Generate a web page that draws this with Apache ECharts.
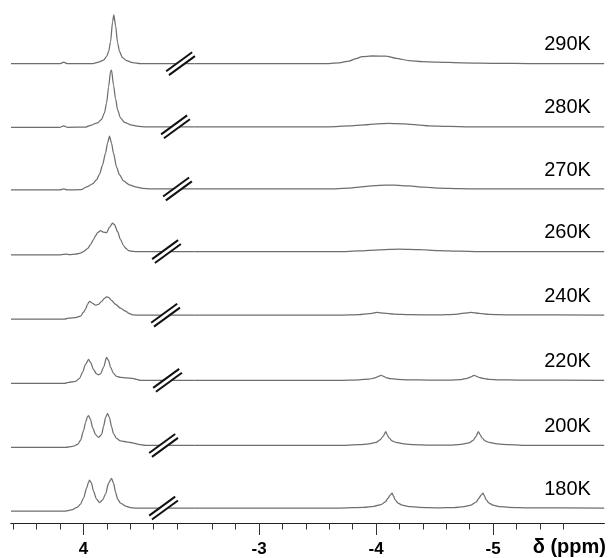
<!DOCTYPE html>
<html>
<head>
<meta charset="utf-8">
<script src="https://cdn.jsdelivr.net/npm/echarts@6/dist/echarts.min.js"></script>
<style>
html,body{margin:0;padding:0;background:#fff;}
#c{width:608px;height:558px;}
</style>
</head>
<body>
<div id="c"></div>
<script>
// ---- data (ppm, intensity relative to each spectrum's baseline) ----
const temps = ['290K','280K','270K','260K','240K','220K','200K','180K'];
const baselines = [462, 398.5, 336, 273, 209, 143.5, 78, 15];
const breakPpm = [3.171, 3.214, 3.197, 3.291, 3.299, 3.282, 3.316, 3.316];
const leftMinorTicks = [4.6, 4.4, 4.2, 3.8, 3.6, 3.4, 3.2];
const leftMajorTicks = [4];
const rightMinorTicks = [-2.6, -2.8, -3.2, -3.4, -3.6, -3.8, -4.2, -4.4, -4.6, -4.8, -5.2, -5.4, -5.6];
const rightMajorTicks = [-3, -4, -5];

const L290 = [[4.62,0],[4.20,0],[4.17,1.5],[4.14,0],[3.92,0],[3.872,1.5],[3.829,3.5],[3.803,7],[3.786,12],[3.769,22],[3.752,42],[3.741,49],[3.726,38],[3.709,21],[3.692,12],[3.667,6],[3.632,3],[3.581,1],[3.513,0],[3.05,0]];
const L280 = [[4.62,-0.5],[4.20,-0.5],[4.17,1],[4.14,-0.5],[3.98,-0.3],[3.94,1.5],[3.88,4],[3.846,7.5],[3.821,14],[3.803,24],[3.786,40],[3.769,56],[3.761,57],[3.744,42],[3.726,28],[3.709,17],[3.684,9],[3.65,4.5],[3.598,2],[3.53,0.5],[3.47,0],[3.05,0]];
const L270 = [[4.62,-1],[4.20,-1],[4.17,0],[4.14,-1],[4.02,-0.8],[3.974,2],[3.923,5],[3.889,9],[3.863,15],[3.838,24],[3.812,36],[3.795,46],[3.778,53],[3.761,46],[3.744,36],[3.718,22],[3.692,14],[3.658,8],[3.607,4],[3.556,2],[3.496,0.5],[3.427,0],[3.05,0]];
const L260 = [[4.62,-3.3],[4.197,-3.3],[4.145,-2.6],[4.12,-3],[4.068,-2.5],[4.026,-1.5],[4.0,0],[3.966,3],[3.94,7],[3.915,12],[3.897,16],[3.88,19],[3.855,21],[3.829,19.5],[3.803,19],[3.778,24.5],[3.752,28.5],[3.735,27],[3.709,20],[3.684,12],[3.658,6],[3.641,3.5],[3.615,1],[3.59,0.3],[3.556,0],[3.05,0]];
const L240 = [[4.62,-4],[4.162,-4],[4.128,-3],[4.068,-2.5],[4.026,-1],[4.0,3],[3.983,6],[3.966,11],[3.949,14],[3.923,12],[3.897,10],[3.872,11],[3.846,14],[3.821,17],[3.803,18.5],[3.786,18],[3.761,15],[3.726,11],[3.684,7],[3.641,4],[3.607,1.5],[3.573,0.3],[3.513,0],[3.05,0]];
const L220 = [[4.62,-3],[4.162,-3],[4.128,-2],[4.068,-1],[4.034,2],[4.009,8],[3.983,16],[3.957,21],[3.94,18],[3.915,11],[3.889,6.5],[3.872,5.5],[3.855,6.5],[3.829,13],[3.803,23],[3.786,20],[3.769,13],[3.744,7],[3.718,4],[3.684,3],[3.632,2.5],[3.581,2],[3.547,1],[3.513,0],[3.05,0]];
const L200 = [[4.62,-2],[4.154,-2],[4.094,-1],[4.051,1],[4.026,5],[4.0,15],[3.983,23],[3.966,29],[3.957,30],[3.94,26],[3.923,18],[3.897,11],[3.872,8],[3.846,11],[3.829,19],[3.812,28],[3.795,32],[3.778,28],[3.761,19],[3.744,12],[3.718,7],[3.684,4.5],[3.632,3.5],[3.581,2.5],[3.53,1],[3.47,0],[3.05,0]];
const L180 = [[4.62,-3],[4.154,-3],[4.094,-1.5],[4.051,1],[4.026,4],[4.0,10],[3.974,20],[3.957,26],[3.949,28],[3.932,25],[3.915,17],[3.889,9],[3.863,5.5],[3.838,8],[3.812,14],[3.786,25],[3.761,30],[3.744,25],[3.726,16],[3.709,9],[3.684,5],[3.641,2],[3.598,0.5],[3.556,0],[3.05,0]];

const R290 = [[-2.45,0],[-3.598,0],[-3.684,0.8],[-3.769,2.6],[-3.829,5],[-3.88,7],[-3.966,7.7],[-4.085,7.6],[-4.171,5.3],[-4.282,3],[-4.393,2],[-4.513,1.5],[-4.735,0.8],[-5.051,0.3],[-5.308,0],[-5.95,0]];
const R280 = [[-2.45,0],[-3.598,0],[-3.769,0.8],[-3.897,2],[-4.009,3],[-4.111,3.3],[-4.239,2.8],[-4.35,2],[-4.453,1],[-4.624,0.4],[-4.795,0],[-5.95,0]];
const R270 = [[-2.45,0],[-3.598,0],[-3.769,0.8],[-3.897,2.3],[-4.026,3.6],[-4.154,3.8],[-4.282,3],[-4.41,1.8],[-4.538,0.8],[-4.709,0.3],[-4.88,0],[-5.95,0]];
const R260 = [[-2.45,0],[-3.684,0],[-3.855,0.6],[-4.026,1.8],[-4.197,2.5],[-4.368,2],[-4.538,1],[-4.709,0.4],[-4.88,0],[-5.95,0]];
const R240 = [[-2.45,0],[-3.684,0],[-3.855,0.5],[-3.94,1.5],[-4.009,2.8],[-4.068,2],[-4.154,1],[-4.282,0.5],[-4.538,0.3],[-4.667,0.8],[-4.752,2],[-4.812,2.8],[-4.88,1.8],[-4.966,0.8],[-5.137,0.3],[-5.95,0]];
const R220 = [[-2.45,0],[-3.684,0],[-3.855,0.5],[-3.94,1.2],[-3.991,2.5],[-4.026,4.2],[-4.043,5],[-4.06,4.2],[-4.085,2.8],[-4.12,1.8],[-4.179,1],[-4.282,0.5],[-4.453,0.2],[-4.624,0.3],[-4.726,0.8],[-4.778,2],[-4.812,3.5],[-4.838,5],[-4.855,4.3],[-4.88,3],[-4.915,2],[-4.966,1],[-5.051,0.5],[-5.222,0.2],[-5.95,0]];
const R200 = [[-2.45,0],[-3.684,0],[-3.855,0.7],[-3.94,1.5],[-4.0,3],[-4.034,5.5],[-4.06,9],[-4.083,14],[-4.094,11],[-4.111,7.5],[-4.137,4.5],[-4.171,3],[-4.239,1.5],[-4.325,0.8],[-4.453,0.3],[-4.624,0.3],[-4.726,1],[-4.795,2.5],[-4.829,5],[-4.855,9],[-4.874,14],[-4.889,11],[-4.906,7.5],[-4.932,4.5],[-4.966,3],[-5.034,1.5],[-5.137,0.7],[-5.308,0],[-5.95,0]];
const R180 = [[-2.45,0],[-3.684,0],[-3.897,0.8],[-3.983,1.8],[-4.043,3.5],[-4.077,6],[-4.103,10],[-4.12,13],[-4.137,15],[-4.15,12],[-4.162,8.5],[-4.188,5],[-4.222,3],[-4.282,1.5],[-4.368,0.7],[-4.538,0.2],[-4.667,0.5],[-4.752,1.5],[-4.812,3],[-4.855,6],[-4.88,10],[-4.897,13],[-4.915,15],[-4.927,12],[-4.94,8.5],[-4.966,5],[-5.0,3],[-5.051,1.5],[-5.137,0.7],[-5.308,0.2],[-5.95,0]];

const leftSpectra = [L290, L280, L270, L260, L240, L220, L200, L180];
const rightSpectra = [R290, R280, R270, R260, R240, R220, R200, R180];

// ---- style ----
const FONT = '"Liberation Sans", Arial, Helvetica, sans-serif';
const traceColor = '#6e6e6e';
const labelAtPpm = -5.637;
const labelLift = 19;

const chart = echarts.init(document.getElementById('c'), null, {renderer: 'canvas'});

function axisPair(gridIndex, min, max, minor, major) {
  const base = {
    type: 'value', gridIndex, min, max, inverse: true, position: 'bottom', offset: 0,
    splitLine: {show: false},
    axisLine: {show: true, lineStyle: {color: '#222', width: 1}}
  };
  return [
    Object.assign({}, base, {
      axisTick: {show: true, customValues: minor, length: 6.5, lineStyle: {color: '#333', width: 1}},
      axisLabel: {show: false}
    }),
    Object.assign({}, base, {
      axisTick: {show: true, customValues: major, length: 12, lineStyle: {color: '#333', width: 1}},
      axisLabel: {show: true, customValues: major, margin: 18, color: '#000',
        fontSize: 17, fontWeight: 'bold', fontFamily: FONT,
        formatter: v => String(v)}
    })
  ];
}

const series = [];
leftSpectra.forEach((arr, i) => {
  series.push({
    type: 'line', xAxisIndex: 0, yAxisIndex: 0, showSymbol: false, silent: true,
    smooth: 0.25, smoothMonotone: 'x',
    lineStyle: {color: traceColor, width: 1.25},
    data: arr.map(p => [p[0], baselines[i] + p[1]])
  });
});
rightSpectra.forEach((arr, i) => {
  series.push({
    type: 'line', xAxisIndex: 2, yAxisIndex: 1, showSymbol: false, silent: true,
    smooth: 0.25, smoothMonotone: 'x',
    lineStyle: {color: traceColor, width: 1.25},
    data: arr.map(p => [p[0], baselines[i] + p[1]])
  });
});
// break marks "//" on every trace
series.push({
  type: 'custom', xAxisIndex: 0, yAxisIndex: 0, silent: true, clip: false, z: 10,
  data: breakPpm.map((b, i) => [b, baselines[i]]),
  renderItem: function (params, api) {
    const c = api.coord([api.value(0), api.value(1)]);
    const dx = 13, dy = -9.5;
    const px = 0.58 * 2.4, py = 0.81 * 2.4;
    const a1 = [c[0] - dx + px, c[1] - dy + py], a2 = [c[0] + dx + px, c[1] + dy + py];
    const b1 = [c[0] - dx - px, c[1] - dy - py], b2 = [c[0] + dx - px, c[1] + dy - py];
    return {type: 'group', children: [
      {type: 'polygon', shape: {points: [a1, a2, b2, b1]}, style: {fill: '#fff'}},
      {type: 'line', shape: {x1: a1[0], y1: a1[1], x2: a2[0], y2: a2[1]}, style: {stroke: '#111', lineWidth: 2}},
      {type: 'line', shape: {x1: b1[0], y1: b1[1], x2: b2[0], y2: b2[1]}, style: {stroke: '#111', lineWidth: 2}}
    ]};
  }
});
// temperature labels
series.push({
  type: 'scatter', xAxisIndex: 2, yAxisIndex: 1, silent: true, symbolSize: 1,
  itemStyle: {color: 'transparent'},
  data: temps.map((t, i) => ({name: t, value: [labelAtPpm, baselines[i] + labelLift]})),
  label: {show: true, position: 'inside', formatter: '{b}', color: '#000',
    textBorderWidth: 0, textBorderColor: 'transparent', opacity: 1,
    fontSize: 20, fontFamily: FONT}
});

chart.setOption({
  animation: false,
  backgroundColor: '#fff',
  title: {text: 'δ (ppm)', right: 2, top: 537, padding: 0,
    textStyle: {fontSize: 20, fontWeight: 'bold', color: '#000', fontFamily: FONT}},
  grid: [
    {left: 11, width: 183.7, top: 0, height: 526},
    {left: 194.7, width: 409.5, top: 0, height: 526}
  ],
  xAxis: [
    ...axisPair(0, 3.05, 4.62, leftMinorTicks, leftMajorTicks),
    ...axisPair(1, -5.95, -2.45, rightMinorTicks, rightMajorTicks)
  ],
  yAxis: [
    {type: 'value', gridIndex: 0, min: 0, max: 526, show: false},
    {type: 'value', gridIndex: 1, min: 0, max: 526, show: false}
  ],
  series
});
</script>
</body>
</html>
